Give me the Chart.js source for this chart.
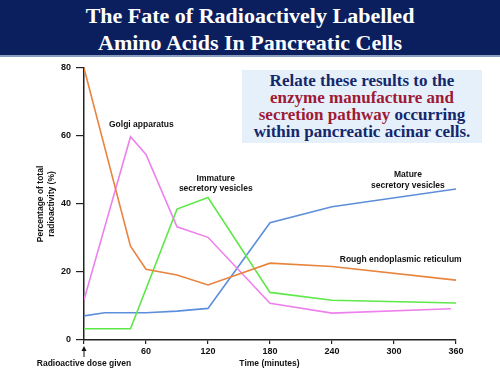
<!DOCTYPE html>
<html>
<head>
<meta charset="utf-8">
<script src="https://cdn.jsdelivr.net/npm/chart.js@4"></script>
<style>
  html, body { margin: 0; padding: 0; background: #fff; }
  #wrap { position: relative; width: 500px; height: 375px; overflow: hidden; }
  #chart { position: absolute; left: 0; top: 0; }
  #banner {
    position: absolute; left: 0; top: 0; width: 500px; height: 57px;
    background: #0b1f5e; border-bottom: 2px solid #8a9cc0;
    color: #fff; font: bold 22px "Liberation Serif", serif;
    text-align: center; line-height: 27px; padding-top: 2px; box-sizing: border-box;
  }
  #note {
    position: absolute; left: 242px; top: 70px; width: 240px; height: 73px;
    background: #e6f0fb; color: #15276b;
    font: bold 17px "Liberation Serif", serif; line-height: 17px;
    text-align: center; padding-top: 2px; box-sizing: border-box;
  }
  #note .red { color: #9e1a35; }
</style>
</head>
<body>
<div id="wrap">
  <canvas id="chart" width="500" height="375"></canvas>
  <div id="banner">The Fate of Radioactively Labelled<br>Amino Acids In Pancreatic Cells</div>
  <div id="note">Relate these results to the<br><span class="red">enzyme manufacture and<br>secretion pathway</span> occurring<br>within pancreatic acinar cells.</div>
</div>
<script>
// minutes after the dose
const rerTimes = [0, 45, 60, 90, 120, 180, 240, 360];
const rerValues = [80, 27.6, 20.8, 19.1, 16.2, 22.6, 21.6, 17.6];

const golgiTimes = [0, 45, 60, 90, 120, 180, 240, 355];
const golgiValues = [11.8, 59.8, 54.6, 33.3, 30.2, 10.8, 7.9, 9.2];

const immatureTimes = [0, 45, 90, 120, 180, 240, 360];
const immatureValues = [3.3, 3.3, 38.5, 41.9, 14.0, 11.7, 10.9];

const matureTimes = [0, 20, 60, 90, 120, 180, 240, 360];
const matureValues = [7.1, 8.0, 8.0, 8.5, 9.3, 34.5, 39.2, 44.4];

const xTicks = [0, 60, 120, 180, 240, 300, 360];
const yTicks = [0, 20, 40, 60, 80];

// labels placed in data space: [text lines, minutes, percent]
const labels = [
  [['Golgi apparatus'], 55.5, 63.2],
  [['Immature', 'secretory vesicles'], 127.5, 47.5],
  [['Mature', 'secretory vesicles'], 313.5, 48.5],
  [['Rough endoplasmic reticulum'], 306.5, 23.5]
];

const toPts = (t, v) => t.map((x, i) => ({ x: x, y: v[i] }));

function line(data, color) {
  return { data: data, borderColor: color, borderWidth: 1.6, pointRadius: 0, tension: 0, fill: false };
}

const extras = {
  id: 'extras',
  afterDraw(chart) {
    const ctx = chart.ctx;
    const xs = chart.scales.x, ys = chart.scales.y;
    ctx.save();
    ctx.fillStyle = '#111';
    ctx.textAlign = 'center';
    ctx.textBaseline = 'middle';
    ctx.font = 'bold 8.5px "Liberation Sans", Arial, sans-serif';
    labels.forEach(([lines, t, v]) => {
      const px = xs.getPixelForValue(t), py = ys.getPixelForValue(v);
      lines.forEach((s, i) => ctx.fillText(s, px, py + i * 10.5));
    });

    // axis titles
    ctx.fillText('Time (minutes)', (xs.left + xs.right) / 2 - 0.5, 364);
    const x0 = xs.getPixelForValue(0);
    ctx.fillText('Radioactive dose given', x0, 364);
    ctx.save();
    ctx.translate(46, (ys.top + ys.bottom) / 2);
    ctx.rotate(-Math.PI / 2);
    ctx.fillText('Percentage of total', 0, -5);
    ctx.fillText('radioactivity (%)', 0, 6);
    ctx.restore();

    // arrow under time zero
    ctx.strokeStyle = '#111';
    ctx.lineWidth = 1;
    ctx.beginPath();
    ctx.moveTo(x0, 357);
    ctx.lineTo(x0, 349);
    ctx.stroke();
    ctx.beginPath();
    ctx.moveTo(x0, 346);
    ctx.lineTo(x0 - 2.5, 351);
    ctx.lineTo(x0 + 2.5, 351);
    ctx.closePath();
    ctx.fill();
    ctx.restore();
  }
};

new Chart(document.getElementById('chart'), {
  type: 'line',
  data: {
    datasets: [
      line(toPts(rerTimes, rerValues), '#e8843e'),
      line(toPts(golgiTimes, golgiValues), '#ee80ec'),
      line(toPts(immatureTimes, immatureValues), '#5fe84a'),
      line(toPts(matureTimes, matureValues), '#5d8edb')
    ]
  },
  options: {
    responsive: false,
    animation: false,
    layout: { padding: { left: 0, right: 44, top: 68, bottom: 0 } },
    plugins: { legend: { display: false }, tooltip: { enabled: false } },
    scales: {
      x: {
        type: 'linear', min: 0, max: 360,
        afterBuildTicks: s => { s.ticks = xTicks.map(v => ({ value: v })); },
        afterFit: s => { s.height = 35; },
        border: { color: '#222', width: 1.5 },
        grid: { drawOnChartArea: false, tickLength: 4, color: '#222', lineWidth: 1.2 },
        ticks: {
          color: '#111', padding: 2,
          font: { family: '"Liberation Sans", Arial, sans-serif', size: 9, weight: 'bold' },
          callback: v => v === 0 ? '' : v
        }
      },
      y: {
        min: 0, max: 80,
        afterBuildTicks: s => { s.ticks = yTicks.map(v => ({ value: v })); },
        afterFit: s => { s.width = 84; },
        border: { color: '#222', width: 1.5 },
        grid: { drawOnChartArea: false, tickLength: 8, color: '#222', lineWidth: 1.2 },
        ticks: {
          color: '#111', padding: 5,
          font: { family: '"Liberation Sans", Arial, sans-serif', size: 9, weight: 'bold' }
        }
      }
    }
  },
  plugins: [extras]
});
</script>
</body>
</html>
